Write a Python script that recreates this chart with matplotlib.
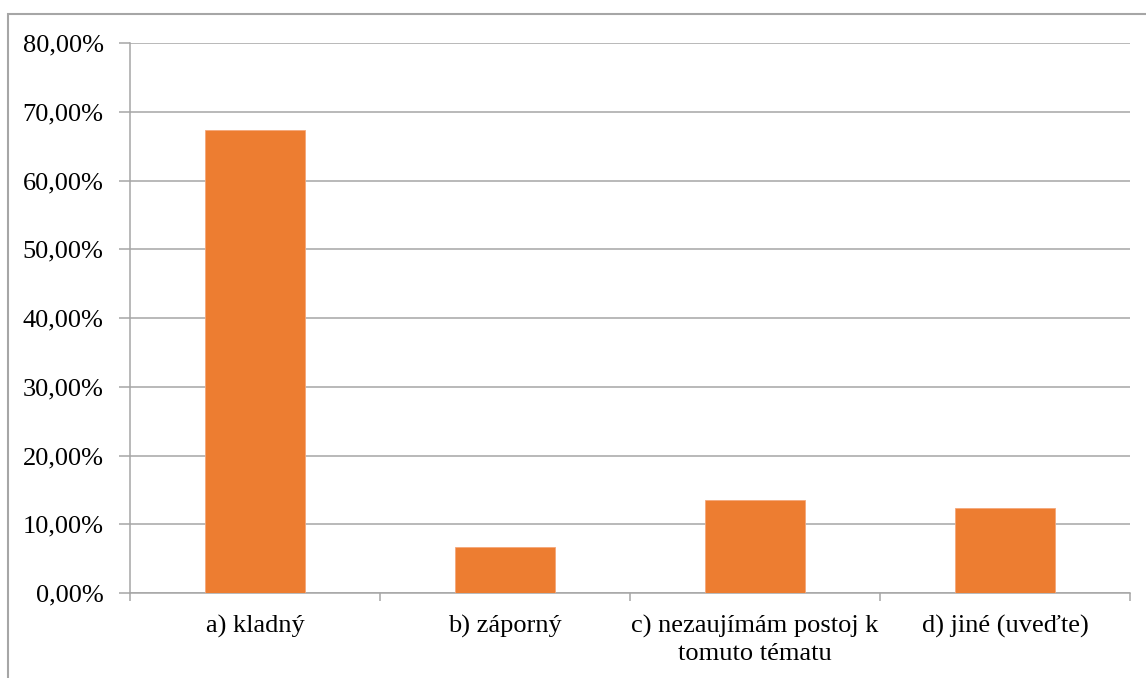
import matplotlib
matplotlib.use("Agg")
import matplotlib.pyplot as plt
from matplotlib.patches import Rectangle
from matplotlib.ticker import FuncFormatter, FixedLocator

categories = ["a) kladný", "b) záporný", "c) nezaujímám postoj k\ntomuto tématu", "d) jiné (uveďte)"]
values = [67.4, 6.7, 13.5, 12.4]
y_ticks = [0, 10, 20, 30, 40, 50, 60, 70, 80]

W, H = 1146, 678
plt.rcParams["font.family"] = ["Liberation Serif", "DejaVu Serif"]
fig = plt.figure(figsize=(W / 100, H / 100), dpi=100)

# outer chart frame (left and top edges visible)
fig.patches.append(Rectangle((8 / W, -0.1), 1.2, (H - 14) / H + 0.1,
                             transform=fig.transFigure, fill=False,
                             edgecolor="#a6a6a6", linewidth=1.5))

grid_c = "#a6a6a6"
ax = fig.add_axes([130 / W, (H - 593) / H, 1000 / W, 550 / H])
x = list(range(len(categories)))
ax.bar(x, values, width=0.4, color="#ED7D31", edgecolor="#f4a77a", linewidth=0.6, zorder=3)

ax.set_xlim(-0.5, len(categories) - 0.5)
ax.set_ylim(0, 80)
ax.yaxis.set_major_locator(FixedLocator(y_ticks))
ax.yaxis.set_major_formatter(FuncFormatter(lambda v, _: f"{v:.2f}".replace(".", ",") + "%"))
ax.grid(axis="y", color=grid_c, linewidth=1.1, zorder=0)

ax.set_xticks(x)
ax.set_xticklabels(categories, fontsize=19, linespacing=1.3)
ax.set_xticks([i - 0.5 for i in range(len(categories) + 1)], minor=True)
ax.tick_params(axis="x", which="major", length=0, pad=16)
ax.tick_params(axis="x", which="minor", length=6, color=grid_c, width=1.1)
ax.tick_params(axis="y", length=8, color=grid_c, width=1.1, labelsize=19, pad=11)

for s in ["top", "right"]:
    ax.spines[s].set_visible(False)
for s in ["left", "bottom"]:
    ax.spines[s].set_color(grid_c)
    ax.spines[s].set_linewidth(1.1)

fig.savefig("out.png", dpi=100)
